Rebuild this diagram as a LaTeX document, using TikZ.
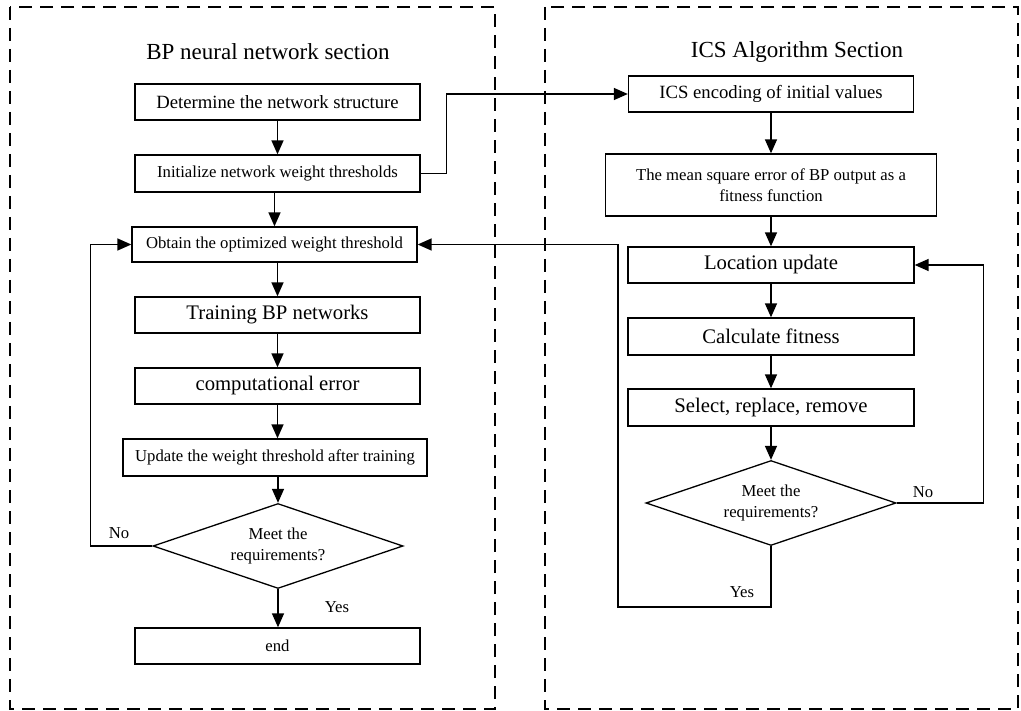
\documentclass[tikz,border=0pt]{standalone}
\usepackage{fontspec}
\setmainfont{Liberation Serif}
\usetikzlibrary{arrows.meta,shapes.geometric}
\newcommand{\fbig}{\fontsize{20.7}{24}\selectfont}
\newcommand{\fmid}{\fontsize{18.7}{22}\selectfont}
\newcommand{\fsml}{\fontsize{16.7}{21}\selectfont}
\newcommand{\ftitle}{\fontsize{23}{27}\selectfont}
\tikzset{
  box/.style={draw, line width=1.3pt, rectangle, inner sep=0pt, align=center, minimum width=285pt, minimum height=36pt},
  dia/.style={draw, line width=1.3pt, diamond, aspect=2.94, inner sep=0pt, align=center, minimum width=250pt, minimum height=85pt, font=\fsml},
  arr/.style={line width=1.4pt, -{Triangle[length=14pt,width=12pt]}},
  dashbox/.style={line width=1.3pt, dash pattern=on 13pt off 8pt},
  lbl/.style={inner sep=0pt, font=\fsml}
}
\begin{document}
\begin{tikzpicture}[x=1pt,y=-1pt]
\useasboundingbox (0,0) rectangle (1021,711);
% section frames
\draw[dashbox] (10,7) rectangle (495,709);
\draw[dashbox] (545,7) rectangle (1018,709);
\node[font=\ftitle] (t1) at (268,52) {BP neural network section};
\node[font=\ftitle] (t2) at (797,52) {ICS Algorithm Section};
% left column
\node[box, font=\fmid] (d1) at (277.5,102) {Determine the network structure};
\node[box, font=\fsml, minimum height=37pt] (d2) at (277.5,173.5) {Initialize network weight thresholds};
\node[box, font=\fsml, minimum height=35pt] (d3) at (274.5,244.5) {Obtain the optimized weight threshold};
\node[box, font=\fbig] (d4) at (277.5,315) {Training BP networks};
\node[box, font=\fbig] (d5) at (277.5,386) {computational error};
\node[box, font=\fsml, minimum width=304pt, minimum height=37pt] (d6) at (275,457.5) {Update the weight threshold after training};
\node[dia] (m1) at (278,546) {Meet the\\requirements?};
\node[box, font=\fsml] (d7) at (277.5,646) {end};
% right column
\node[box, font=\fmid] (r1) at (771,94) {ICS encoding of initial values};
\node[box, font=\fsml, minimum width=331pt, minimum height=62pt] (r2) at (771,185) {The mean square error of BP output as a\\fitness function};
\node[box, font=\fbig, minimum width=286pt] (r3) at (771,265) {Location update};
\node[box, font=\fbig, minimum width=286pt, minimum height=37pt] (r4) at (771,336.5) {Calculate fitness};
\node[box, font=\fbig, minimum width=286pt, minimum height=37pt] (r5) at (771,407.5) {Select, replace, remove};
\node[dia] (m2) at (771,503) {Meet the\\requirements?};
% left connectors
\draw[arr] (d1.south) -- (d2.north);
\draw[arr] (d2.south -| d3) -- (d3.north);
\draw[arr] (d3.south -| d4) -- (d4.north);
\draw[arr] (d4.south) -- (d5.north);
\draw[arr] (d5.south) -- (d5.south |- d6.north);
\draw[arr] (m1.north |- d6.south) -- (m1.north);
\draw[arr] (m1.west) -- ([xshift=-41pt]d3.west |- m1.west) |- (d3.west);
\draw[arr] (m1.south) -- (m1.south |- d7.north);
\node[lbl] (no1) at (119,533) {No};
\node[lbl] (yes1) at (337,607) {Yes};
% link to ICS
\draw[arr] (d2.east) -- ([xshift=26pt]d2.east) |- (r1.west);
% right connectors
\draw[arr] (r1.south) -- (r2.north);
\draw[arr] (r2.south) -- (r3.north);
\draw[arr] (r3.south) -- (r4.north);
\draw[arr] (r4.south) -- (r5.north);
\draw[arr] (r5.south) -- (m2.north);
\draw[arr] (m2.east) -- ([xshift=69pt]r3.east |- m2.east) |- (r3.east);
\node[lbl] (no2) at (923,492) {No};
\coordinate (yb) at (618,607);
\draw[arr] (m2.south) |- (yb) |- (d3.east);
\node[lbl] (yes2) at (742,592) {Yes};
\end{tikzpicture}
\end{document}
